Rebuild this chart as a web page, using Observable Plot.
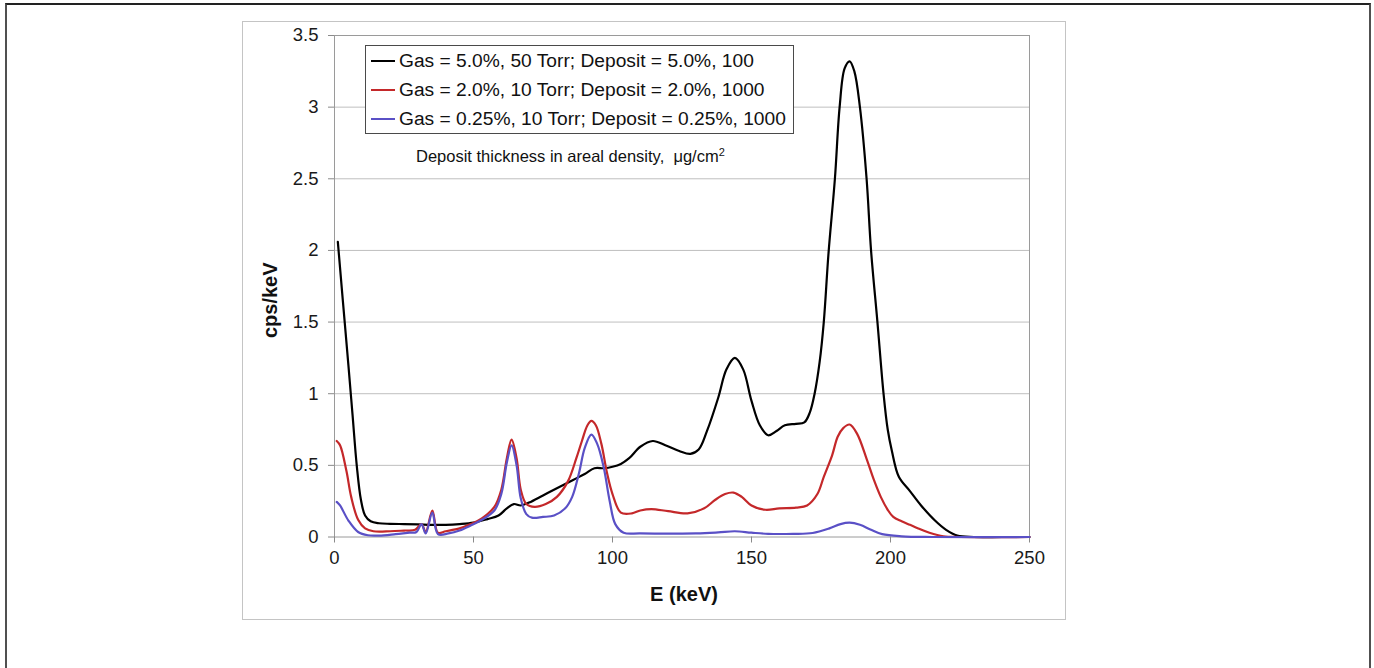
<!DOCTYPE html>
<html>
<head>
<meta charset="utf-8">
<script src="https://cdn.jsdelivr.net/npm/d3@7"></script>
<script src="https://cdn.jsdelivr.net/npm/@observablehq/plot@0.6"></script>
<style>
  html, body { margin: 0; padding: 0; background: #fff; }
  #page { position: relative; width: 1374px; height: 668px; overflow: hidden;
          font-family: "Liberation Sans", Arial, sans-serif; color: #111; }
  #outer { position: absolute; left: 5px; top: 3px; width: 1362px; height: 720px;
           border: 2px solid #505050; border-top-color: #222; }
  #box { position: absolute; left: 242px; top: 21px; width: 822px; height: 597px;
         border: 1px solid #c4c4c4; }
  #chart { position: absolute; left: 0; top: 0; }
  #legend { position: absolute; left: 365px; top: 45px; width: 427px; height: 87px;
            border: 1px solid #4a4a4a; background: #fff; }
  .row { position: absolute; left: 0; height: 29px; display: flex; align-items: center;
         font-size: 19.2px; white-space: nowrap; }
  .swatch { width: 24px; height: 0; border-top: 2.2px solid; margin: 0 4px 0 5px; }
  #note { position: absolute; left: 416px; top: 148px; font-size: 16.5px; line-height: 16px;
          white-space: nowrap; color: #111; }
  #note sup { font-size: 11px; vertical-align: 6px; line-height: 0; }
</style>
</head>
<body>
<div id="page">
  <div id="outer"></div>
  <div id="box"></div>
  <div id="chart"></div>
  <div id="legend"></div>
  <div id="note">Deposit thickness in areal density,&nbsp; μg/cm<sup>2</sup></div>
</div>
<script>
// Series labels and line colours
const seriesNames = [
  "Gas = 5.0%, 50 Torr; Deposit = 5.0%, 100",
  "Gas = 2.0%, 10 Torr; Deposit = 2.0%, 1000",
  "Gas = 0.25%, 10 Torr; Deposit = 0.25%, 1000"
];
const seriesColors = ["#000000", "#c4282a", "#5a50c6"];

// Axis ticks
const xTicks = [0, 50, 100, 150, 200, 250];
const yTicks = [0, 0.5, 1, 1.5, 2, 2.5, 3, 3.5];
const yTickLabels = ["0", "0.5", "1", "1.5", "2", "2.5", "3", "3.5"];

// Spectrum: 5.0% gas, 50 Torr (energy in keV, counts in cps/keV)
const blackE = [1.2, 3, 5, 6.5, 8, 9.5, 11, 13, 16, 20, 25, 30, 35, 40, 45, 50, 55, 59, 62, 64.5, 67, 70,
  75, 80, 86, 90, 93.5, 97, 100, 103, 106, 110, 114.5, 119, 124, 128, 131, 134, 138, 141, 144, 147, 150,
  153, 156, 159, 162, 166, 169, 171, 172.7, 174.5, 176, 177.7, 180, 181.7, 183.5, 185.3, 187, 189, 191.4,
  193, 195.3, 197.5, 199, 200.5, 203, 207, 211, 216, 220, 224, 230, 240, 250];
const blackV = [2.06, 1.65, 1.2, 0.85, 0.5, 0.26, 0.15, 0.11, 0.096, 0.092, 0.09, 0.088, 0.085, 0.085,
  0.09, 0.1, 0.125, 0.15, 0.2, 0.23, 0.22, 0.24, 0.29, 0.34, 0.4, 0.44, 0.48, 0.48, 0.49, 0.51, 0.55,
  0.63, 0.67, 0.64, 0.6, 0.58, 0.61, 0.74, 0.97, 1.17, 1.25, 1.17, 0.95, 0.78, 0.71, 0.74, 0.78, 0.79,
  0.8, 0.87, 1.0, 1.22, 1.5, 1.98, 2.5, 3.0, 3.27, 3.32, 3.25, 3.0, 2.5, 2.0, 1.5, 1.0, 0.75, 0.6, 0.42,
  0.32, 0.22, 0.115, 0.05, 0.01, 0, 0, 0];

// Spectrum: 2.0% gas, 10 Torr
const redE = [0.8, 2, 4.3, 6, 8.5, 11, 14, 20, 25, 29, 31.3, 32.8, 35.2, 37.2, 40, 45, 49, 53, 57.5, 60,
  62, 63.7, 65.5, 67, 69, 72, 76, 80, 84, 87, 89, 91, 92.4, 94, 96, 98, 100, 103, 107, 110, 114, 120, 127,
  133, 137, 140.5, 143.5, 146.5, 150, 155, 160, 166, 170, 173.7, 176, 179, 181, 183, 185.3, 188, 191.5,
  194, 196.5, 199, 201, 204, 207, 210, 214, 219, 225, 250];
const redV = [0.67, 0.64, 0.46, 0.28, 0.12, 0.06, 0.04, 0.04, 0.045, 0.05, 0.09, 0.035, 0.185, 0.03,
  0.04, 0.06, 0.09, 0.13, 0.21, 0.33, 0.55, 0.68, 0.55, 0.33, 0.23, 0.21, 0.23, 0.28, 0.39, 0.55, 0.67,
  0.78, 0.81, 0.78, 0.65, 0.45, 0.3, 0.17, 0.165, 0.185, 0.195, 0.18, 0.165, 0.2, 0.26, 0.3, 0.31, 0.28,
  0.22, 0.19, 0.2, 0.205, 0.22, 0.3, 0.42, 0.57, 0.7, 0.76, 0.785, 0.72, 0.54, 0.4, 0.28, 0.19, 0.14,
  0.11, 0.085, 0.06, 0.03, 0.005, 0, 0];

// Spectrum: 0.25% gas, 10 Torr
const blueE = [0.8, 2, 5, 8.5, 12, 16, 22, 27, 29.5, 31.3, 32.8, 35.2, 37.2, 41, 45, 49, 53, 57.5, 60,
  62, 63.7, 65.5, 67, 69, 71, 75, 79, 83, 85.5, 88, 90, 92.4, 94.5, 96.8, 99, 101, 104, 110, 130, 138,
  144, 150, 156, 165, 172, 178, 182, 185.3, 189, 193, 197, 204, 215, 250];
const blueV = [0.245, 0.22, 0.115, 0.035, 0.012, 0.01, 0.02, 0.03, 0.035, 0.09, 0.025, 0.17, 0.02,
  0.025, 0.045, 0.08, 0.12, 0.185, 0.3, 0.52, 0.64, 0.5, 0.27, 0.16, 0.135, 0.14, 0.15, 0.2, 0.28, 0.45,
  0.62, 0.715, 0.65, 0.49, 0.25, 0.09, 0.03, 0.025, 0.025, 0.032, 0.04, 0.03, 0.022, 0.022, 0.028, 0.06,
  0.09, 0.1, 0.085, 0.05, 0.02, 0.005, 0, 0];

const seriesE = [blackE, redE, blueE];
const seriesV = [blackV, redV, blueV];

const rows = seriesNames.flatMap((name, i) =>
  seriesE[i].map((E, j) => ({series: name, E, v: seriesV[i][j]})));

const chart = Plot.plot({
  width: 1374,
  height: 668,
  marginLeft: 334,
  marginRight: 345,
  marginTop: 35,
  marginBottom: 131.5,
  style: {fontFamily: '"Liberation Sans", Arial, sans-serif', background: "transparent"},
  x: {domain: [0, 250]},
  y: {domain: [0, 3.5]},
  color: {domain: seriesNames, range: seriesColors},
  marks: [
    Plot.gridY(yTicks.filter(d => d > 0), {stroke: "#bfbfbf", strokeOpacity: 1}),
    Plot.frame({stroke: "#9a9a9a"}),
    Plot.axisY({ticks: yTicks, tickFormat: d => yTickLabels[yTicks.indexOf(d)], tickSize: 6,
      tickPadding: 10, stroke: "#8a8a8a", fill: "#1a1a1a", fontSize: 18.5, label: null}),
    Plot.axisX({ticks: xTicks, tickSize: 6, tickPadding: 8, stroke: "#8a8a8a", fill: "#1a1a1a",
      fontSize: 18.5, label: null}),
    Plot.line(rows, {x: "E", y: "v", z: "series", stroke: "series", strokeWidth: 2.2,
      curve: "catmull-rom"}),
    Plot.text(["E (keV)"], {frameAnchor: "bottom", lineAnchor: "middle", textAnchor: "middle",
      dx: 2, dy: 58, fontSize: 20, fontWeight: "bold", fill: "#111"}),
    Plot.text(["cps/keV"], {frameAnchor: "left", textAnchor: "middle", lineAnchor: "middle",
      rotate: -90, dx: -64, dy: 14, fontSize: 20, fontWeight: "bold", fill: "#111"})
  ]
});
document.getElementById("chart").appendChild(chart);

// Line legend built from the same series names and colours
const legend = document.getElementById("legend");
seriesNames.forEach((name, i) => {
  const row = document.createElement("div");
  row.className = "row";
  row.style.top = (i * 29 + 0.5) + "px";
  const sw = document.createElement("span");
  sw.className = "swatch";
  sw.style.borderTopColor = seriesColors[i];
  const label = document.createElement("span");
  label.textContent = name;
  row.appendChild(sw);
  row.appendChild(label);
  legend.appendChild(row);
});
</script>
</body>
</html>
